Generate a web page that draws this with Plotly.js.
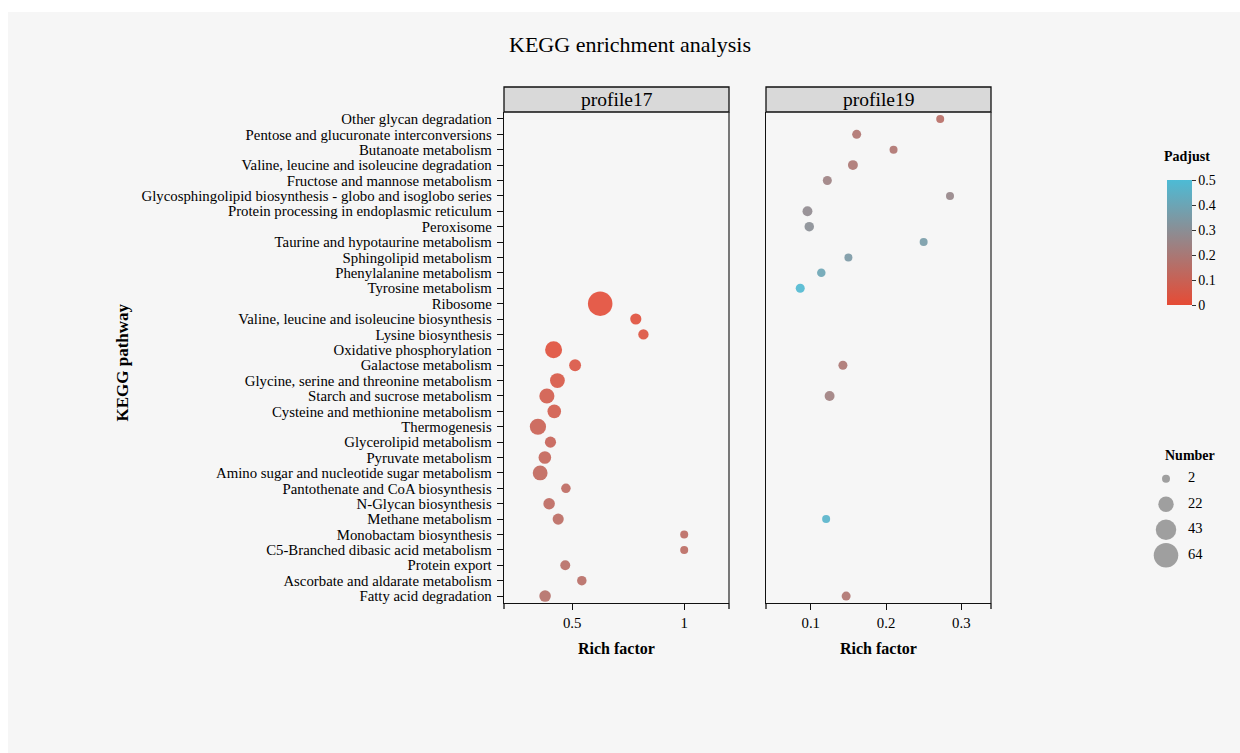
<!DOCTYPE html>
<html>
<head>
<meta charset="utf-8">
<script src="https://cdn.plot.ly/plotly-3.0.1.min.js"></script>
<style>
  html, body { margin: 0; padding: 0; background: #ffffff; }
  #chart { position: absolute; left: 8px; top: 12px; width: 1232px; height: 741px; }
</style>
</head>
<body>
<div id="chart"></div>
<script>
// ---- data ----
const pathways = [
  "Other glycan degradation",
  "Pentose and glucuronate interconversions",
  "Butanoate metabolism",
  "Valine, leucine and isoleucine degradation",
  "Fructose and mannose metabolism",
  "Glycosphingolipid biosynthesis - globo and isoglobo series",
  "Protein processing in endoplasmic reticulum",
  "Peroxisome",
  "Taurine and hypotaurine metabolism",
  "Sphingolipid metabolism",
  "Phenylalanine metabolism",
  "Tyrosine metabolism",
  "Ribosome",
  "Valine, leucine and isoleucine biosynthesis",
  "Lysine biosynthesis",
  "Oxidative phosphorylation",
  "Galactose metabolism",
  "Glycine, serine and threonine metabolism",
  "Starch and sucrose metabolism",
  "Cysteine and methionine metabolism",
  "Thermogenesis",
  "Glycerolipid metabolism",
  "Pyruvate metabolism",
  "Amino sugar and nucleotide sugar metabolism",
  "Pantothenate and CoA biosynthesis",
  "N-Glycan biosynthesis",
  "Methane metabolism",
  "Monobactam biosynthesis",
  "C5-Branched dibasic acid metabolism",
  "Protein export",
  "Ascorbate and aldarate metabolism",
  "Fatty acid degradation"
];

const p17_pathway = [
  "Ribosome",
  "Valine, leucine and isoleucine biosynthesis",
  "Lysine biosynthesis",
  "Oxidative phosphorylation",
  "Galactose metabolism",
  "Glycine, serine and threonine metabolism",
  "Starch and sucrose metabolism",
  "Cysteine and methionine metabolism",
  "Thermogenesis",
  "Glycerolipid metabolism",
  "Pyruvate metabolism",
  "Amino sugar and nucleotide sugar metabolism",
  "Pantothenate and CoA biosynthesis",
  "N-Glycan biosynthesis",
  "Methane metabolism",
  "Monobactam biosynthesis",
  "C5-Branched dibasic acid metabolism",
  "Protein export",
  "Ascorbate and aldarate metabolism",
  "Fatty acid degradation"
];
const p17_rich   = [0.625, 0.784, 0.818, 0.417, 0.513, 0.434, 0.387, 0.420, 0.347, 0.403, 0.378, 0.357, 0.472, 0.397, 0.4375, 1.0, 1.0, 0.469, 0.543, 0.379];
const p17_number = [64, 9, 7, 28, 11, 20, 21, 16, 25, 9, 13, 20, 5, 10, 9, 2, 2, 6, 5, 10];
const p17_padj   = [0.01, 0.02, 0.03, 0.02, 0.04, 0.05, 0.07, 0.07, 0.09, 0.10, 0.11, 0.12, 0.13, 0.13, 0.14, 0.14, 0.14, 0.15, 0.15, 0.16];

const p19_pathway = [
  "Other glycan degradation",
  "Pentose and glucuronate interconversions",
  "Butanoate metabolism",
  "Valine, leucine and isoleucine degradation",
  "Fructose and mannose metabolism",
  "Glycosphingolipid biosynthesis - globo and isoglobo series",
  "Protein processing in endoplasmic reticulum",
  "Peroxisome",
  "Taurine and hypotaurine metabolism",
  "Sphingolipid metabolism",
  "Phenylalanine metabolism",
  "Tyrosine metabolism",
  "Galactose metabolism",
  "Starch and sucrose metabolism",
  "Methane metabolism",
  "Fatty acid degradation"
];
const p19_rich   = [0.272, 0.161, 0.210, 0.156, 0.122, 0.285, 0.0956, 0.098, 0.250, 0.150, 0.114, 0.086, 0.1427, 0.125, 0.1204, 0.147];
const p19_number = [2, 4, 2, 6, 4, 2, 6, 5, 2, 2, 3, 4, 4, 6, 2, 4];
const p19_padj   = [0.15, 0.18, 0.18, 0.19, 0.24, 0.26, 0.28, 0.30, 0.36, 0.35, 0.40, 0.49, 0.19, 0.23, 0.47, 0.18];

const panels = ["profile17", "profile19"];
const sizeLegendValues = [2, 22, 43, 64];
const padjTicks = [0, 0.1, 0.2, 0.3, 0.4, 0.5];

// ---- scales / styles ----
const SERIF = '"Liberation Serif", "Times New Roman", Times, serif';
const N_MIN = 2, N_MAX = 64, D_MIN = 8, D_MAX = 24.5;
function sizeScale(n) {
  return Math.sqrt(D_MIN * D_MIN + (D_MAX * D_MAX - D_MIN * D_MIN) * (n - N_MIN) / (N_MAX - N_MIN));
}
const rowCount = pathways.length;
const W = 1232, H = 741;
const px = v => v / W;
const py = v => (H - v) / H;

const commonMarker = (nums, padj) => ({
  size: nums.map(sizeScale),
  color: padj,
  coloraxis: 'coloraxis',
  opacity: 0.9,
  line: { width: 0 }
});

const traces = [
  {
    type: 'scatter', mode: 'markers',
    x: p17_rich, y: p17_pathway,
    xaxis: 'x', yaxis: 'y',
    marker: commonMarker(p17_number, p17_padj),
    showlegend: false, hoverinfo: 'x+y'
  },
  {
    type: 'scatter', mode: 'markers',
    x: p19_rich, y: p19_pathway,
    xaxis: 'x2', yaxis: 'y2',
    marker: commonMarker(p19_number, p19_padj),
    showlegend: false, hoverinfo: 'x+y'
  },
  // size legend circles
  {
    type: 'scatter', mode: 'markers',
    x: sizeLegendValues.map(() => 18),
    y: sizeLegendValues.map((v, i) => i),
    xaxis: 'x3', yaxis: 'y3',
    marker: { size: sizeLegendValues.map(sizeScale), color: '#7a7a7a', line: { width: 0 } },
    showlegend: false, hoverinfo: 'skip'
  },
  {
    type: 'scatter', mode: 'text',
    x: sizeLegendValues.map(() => 40),
    y: sizeLegendValues.map((v, i) => i),
    text: sizeLegendValues.map(String),
    textposition: 'middle right',
    textfont: { family: SERIF, size: 14.5, color: '#000' },
    xaxis: 'x3', yaxis: 'y3',
    showlegend: false, hoverinfo: 'skip'
  }
];

const yDomain = [py(591), py(100)];
const yRange = [rowCount - 1 + 0.45, -0.45];

const axisBase = {
  showgrid: false, zeroline: false, showline: true,
  linecolor: '#111', linewidth: 1.3
};

const layout = {
  width: W, height: H,
  paper_bgcolor: '#f6f6f6', plot_bgcolor: '#f6f6f6',
  margin: { l: 0, r: 0, t: 0, b: 0 },
  font: { family: SERIF, color: '#000' },
  title: {
    text: 'KEGG enrichment analysis',
    font: { family: SERIF, size: 22, color: '#000' },
    x: px(622), xanchor: 'center', y: py(32), yanchor: 'middle'
  },
  xaxis: Object.assign({}, axisBase, {
    domain: [px(496), px(721)], range: [0.1956, 1.2],
    tick0: 0, dtick: 0.5, ticks: 'outside', ticklen: 6, tickcolor: '#111',
    tickfont: { family: SERIF, size: 14.8 }, anchor: 'y', mirror: false
  }),
  yaxis: Object.assign({}, axisBase, {
    domain: yDomain, type: 'category', categoryorder: 'array', categoryarray: pathways,
    tickmode: 'array', tickvals: pathways, ticktext: pathways,
    range: yRange, ticks: 'outside', ticklen: 6, tickcolor: '#111',
    tickfont: { family: SERIF, size: 14.8 }, anchor: 'x', ticklabelstandoff: 2
  }),
  xaxis2: Object.assign({}, axisBase, {
    domain: [px(758), px(983)], range: [0.0405, 0.3395],
    tick0: 0, dtick: 0.1, ticks: 'outside', ticklen: 6, tickcolor: '#111',
    tickfont: { family: SERIF, size: 14.8 }, anchor: 'y2'
  }),
  yaxis2: Object.assign({}, axisBase, {
    domain: yDomain, type: 'category', categoryorder: 'array', categoryarray: pathways,
    range: yRange, ticks: '', showticklabels: false, anchor: 'x2'
  }),
  xaxis3: {
    domain: [px(1140), px(1220)], range: [0, 80], visible: false, fixedrange: true, anchor: 'y3'
  },
  yaxis3: {
    domain: [py(556), py(454)], range: [3.5, -0.5], visible: false, fixedrange: true, anchor: 'x3'
  },
  coloraxis: {
    cmin: 0, cmax: 0.5,
    colorscale: [[0, '#E64B35'], [1, '#4DBBD5']],
    colorbar: {
      x: px(1158.5), xanchor: 'left', xpad: 0,
      y: py(230.5), yanchor: 'middle', ypad: 0,
      len: 125, lenmode: 'pixels', thickness: 25, thicknessmode: 'pixels',
      outlinewidth: 0,
      tickvals: padjTicks, ticktext: padjTicks.map(String),
      ticks: 'outside', ticklen: 4, tickcolor: '#333',
      tickfont: { family: SERIF, size: 14, color: '#000' },
      title: { text: '' }
    }
  },
  shapes: [],
  annotations: []
};

// strips and edge caps
const panelAxes = [['x', 'y'], ['x2', 'y2']];
panelAxes.forEach(([xa, ya], i) => {
  layout.shapes.push({
    type: 'rect', xref: xa + ' domain', yref: ya + ' domain',
    x0: 0, x1: 1, ysizemode: 'pixel', yanchor: 1, y0: 0, y1: 25,
    fillcolor: '#d9d9d9', line: { color: '#111', width: 1.3 }, layer: 'above'
  });
  // right border
  layout.shapes.push({
    type: 'line', xref: xa + ' domain', yref: ya + ' domain',
    x0: 1, x1: 1, y0: 0, y1: 1, line: { color: '#333', width: 1.3 }
  });
  // x axis end caps
  [0, 1].forEach(xv => {
    layout.shapes.push({
      type: 'line', xref: xa + ' domain', yref: ya + ' domain',
      x0: xv, x1: xv, ysizemode: 'pixel', yanchor: 0, y0: 0, y1: -6,
      line: { color: '#111', width: 1.3 }
    });
  });
  layout.annotations.push({
    xref: xa + ' domain', yref: ya + ' domain', x: 0.5, y: 1,
    yshift: 12.5, showarrow: false, text: panels[i],
    font: { family: SERIF, size: 19.5, color: '#000' },
    xanchor: 'center', yanchor: 'middle'
  });
  layout.annotations.push({
    xref: xa + ' domain', yref: 'paper', x: 0.5, y: py(636),
    showarrow: false, text: '<b>Rich factor</b>',
    font: { family: SERIF, size: 16, color: '#000' },
    xanchor: 'center', yanchor: 'middle'
  });
});

layout.annotations.push({
  xref: 'paper', yref: 'paper', x: px(114), y: py(350.5),
  showarrow: false, text: '<b>KEGG pathway</b>', textangle: -90,
  font: { family: SERIF, size: 17, color: '#000' },
  xanchor: 'center', yanchor: 'middle'
});
layout.annotations.push({
  xref: 'paper', yref: 'paper', x: px(1179), y: py(145),
  showarrow: false, text: '<b>Padjust</b>',
  font: { family: SERIF, size: 14, color: '#000' },
  xanchor: 'center', yanchor: 'middle'
});
layout.annotations.push({
  xref: 'paper', yref: 'paper', x: px(1182), y: py(443),
  showarrow: false, text: '<b>Number</b>',
  font: { family: SERIF, size: 14, color: '#000' },
  xanchor: 'center', yanchor: 'middle'
});

Plotly.newPlot('chart', traces, layout, { displayModeBar: false, staticPlot: true });
</script>
</body>
</html>
